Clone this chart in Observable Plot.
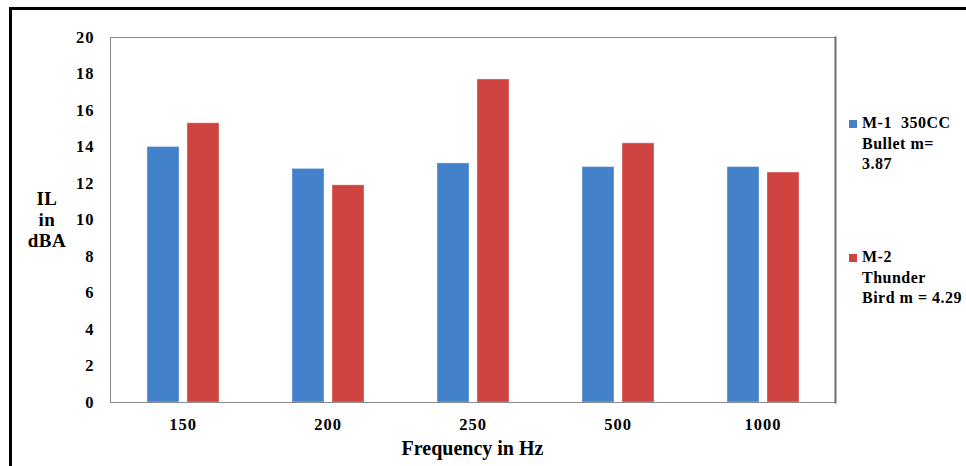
<!DOCTYPE html>
<html>
<head>
<meta charset="utf-8">
<script src="https://cdn.jsdelivr.net/npm/d3@7"></script>
<script src="https://cdn.jsdelivr.net/npm/@observablehq/plot@0.6"></script>
<style>
  html, body { margin: 0; padding: 0; background: #fff; }
  #wrap { position: relative; width: 966px; height: 466px; overflow: hidden; font-family: "Liberation Serif", "Times New Roman", serif; font-weight: bold; color: #000; }
  #border { position: absolute; left: 9px; top: 7px; width: 1200px; height: 800px; border-left: 3px solid #000; border-top: 3px solid #000; }
  #chart { position: absolute; left: 0; top: 0; }
  .lbl { position: absolute; white-space: nowrap; }
  #ytitle { left: 16px; top: 188px; width: 62px; text-align: center; font-size: 19px; line-height: 21px; letter-spacing: 0.5px; }
  #xtitle { left: 108px; width: 729px; top: 437px; text-align: center; font-size: 20px; }
  .leg { position: absolute; left: 849px; font-size: 16px; line-height: 20.7px; white-space: nowrap; letter-spacing: 0.5px; }
  .leg .sw { position: absolute; left: 0; top: 7px; width: 8px; height: 8px; }
  .leg .tx { position: absolute; left: 13px; top: 0; white-space: nowrap; }
</style>
</head>
<body>
<div id="wrap">
  <div id="border"></div>
  <div id="chart"></div>
</div>
<script>
const categories = ["150", "200", "250", "500", "1000"];
const seriesKeys = ["M-1", "M-2"];
const seriesLabels = [["M-1\u00a0\u00a0350CC", "Bullet m=", "3.87"], ["M-2", "Thunder", "Bird m = 4.29"]];
const seriesColors = ["#4381CB", "#CF4440"];
const m1Values = [14.0, 12.8, 13.1, 12.9, 12.9];
const m2Values = [15.3, 11.9, 17.7, 14.2, 12.6];
const yTicks = [0, 2, 4, 6, 8, 10, 12, 14, 16, 18, 20];

const table = categories.flatMap((c, i) => [
  {freq: c, series: seriesKeys[0], value: m1Values[i]},
  {freq: c, series: seriesKeys[1], value: m2Values[i]}
]);

const chart = Plot.plot({
  width: 966,
  height: 466,
  marginLeft: 108,
  marginRight: 129,
  marginTop: 37,
  marginBottom: 64,
  style: {fontFamily: "'Liberation Serif', 'Times New Roman', serif", fontWeight: "bold", fontSize: "16.5px", letterSpacing: "1px", color: "#000", background: "transparent", overflow: "visible"},
  fx: {domain: categories, padding: 0, label: null, tickSize: 0, tickPadding: 16},
  x: {domain: seriesKeys, paddingInner: 0.2, paddingOuter: 0.88, axis: null},
  y: {domain: [0, 20], ticks: yTicks, tickSize: 0, tickPadding: 16, label: null},
  color: {domain: seriesKeys, range: seriesColors},
  marks: [
    Plot.ruleY([0], {stroke: "#d9d9d9", strokeWidth: 1}),
    Plot.barY(table, {fx: "freq", x: "series", y: "value", fill: "series", stroke: "#ffffff", strokeOpacity: 0.35, strokeWidth: 1}),
    Plot.frame({facet: "super", stroke: "#8a8a8a", strokeWidth: 1}),
    Plot.frame({facet: "super", anchor: "right", stroke: "#6e6e6e", strokeWidth: 2})
  ]
});
document.getElementById("chart").appendChild(chart);

const wrap = document.getElementById("wrap");
const yt = document.createElement("div");
yt.className = "lbl"; yt.id = "ytitle";
yt.innerHTML = "IL<br>in<br>dBA";
wrap.appendChild(yt);
const xt = document.createElement("div");
xt.className = "lbl"; xt.id = "xtitle";
xt.textContent = "Frequency in Hz";
wrap.appendChild(xt);
const legTops = [113, 247];
seriesKeys.forEach((k, i) => {
  const d = document.createElement("div");
  d.className = "leg";
  d.style.top = legTops[i] + "px";
  const sw = document.createElement("div");
  sw.className = "sw"; sw.style.background = seriesColors[i];
  const tx = document.createElement("div");
  tx.className = "tx";
  tx.innerHTML = seriesLabels[i].join("<br>");
  d.appendChild(sw); d.appendChild(tx);
  wrap.appendChild(d);
});
</script>
</body>
</html>
